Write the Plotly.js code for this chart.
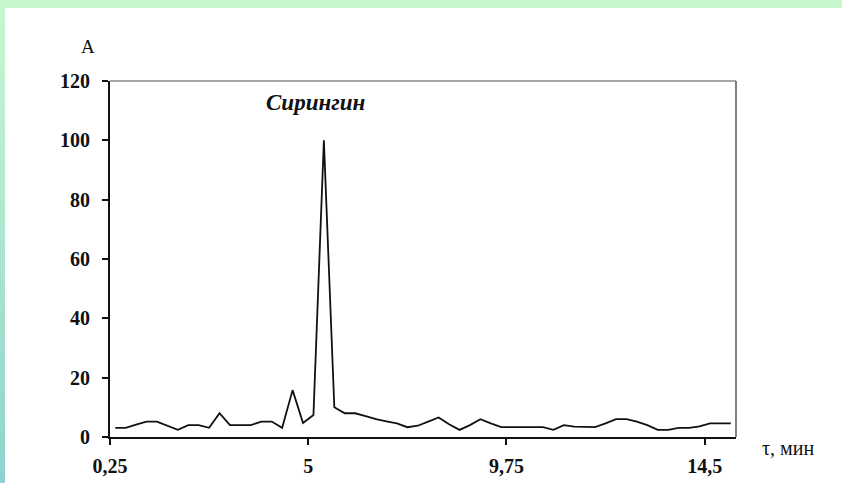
<!DOCTYPE html>
<html>
<head>
<meta charset="utf-8">
<script src="https://cdn.plot.ly/plotly-3.0.1.min.js"></script>
<style>
  html, body { margin: 0; padding: 0; }
  body {
    width: 842px; height: 483px; overflow: hidden;
    background: linear-gradient(to bottom, #c6f7cf 0%, #b0e8cf 45%, #8fd2cf 100%);
    position: relative;
  }
  #top { position: absolute; left: 0; top: 0; width: 842px; height: 8px; background: #c6f7cf; }
  #chart { position: absolute; left: 5px; top: 8px; width: 837px; height: 475px; background: #ffffff; }
</style>
</head>
<body>
<div id="top"></div>
<div id="chart"></div>
<script>
// Retention time, min (sampling step 0.25 min)
const timeMin = [
  0.25, 0.5, 0.75, 1.0, 1.25, 1.5, 1.75, 2.0, 2.25, 2.5,
  2.75, 3.0, 3.25, 3.5, 3.75, 4.0, 4.25, 4.5, 4.75, 5.0,
  5.25, 5.5, 5.75, 6.0, 6.25, 6.5, 6.75, 7.0, 7.25, 7.5,
  7.75, 8.0, 8.25, 8.5, 8.75, 9.0, 9.25, 9.5, 9.75, 10.0,
  10.25, 10.5, 10.75, 11.0, 11.25, 11.5, 11.75, 12.0, 12.25, 12.5,
  12.75, 13.0, 13.25, 13.5, 13.75, 14.0, 14.25, 14.5, 14.75, 15.0
];
// Signal A (relative units)
const signalA = [
  3.1, 3.1, 4.2, 5.2, 5.2, 3.8, 2.4, 4.0, 4.0, 3.1,
  8.0, 4.0, 4.0, 4.0, 5.2, 5.2, 3.1, 15.8, 4.7, 7.4,
  100, 10.0, 8.0, 8.0, 7.0, 6.0, 5.3, 4.6, 3.3, 3.8,
  5.2, 6.6, 4.3, 2.4, 4.0, 6.0, 4.6, 3.3, 3.3, 3.3,
  3.3, 3.3, 2.4, 4.0, 3.5, 3.3, 3.3, 4.6, 6.0, 6.0,
  5.2, 4.0, 2.4, 2.4, 3.1, 3.1, 3.6, 4.6, 4.6, 4.6
];
// Axis ticks (category-boundary positions, as in the original)
const xTickVals = [0.125, 4.875, 9.625, 14.375];
const xTickText = ["0,25", "5", "9,75", "14,5"];
const yTickVals = [0, 20, 40, 60, 80, 100, 120];

const serif = "Liberation Serif, Times New Roman, serif";

const trace = {
  x: timeMin,
  y: signalA,
  type: "scatter",
  mode: "lines",
  line: { color: "#111111", width: 1.8 },
  hoverinfo: "skip"
};

const layout = {
  width: 837,
  height: 475,
  margin: { l: 105, r: 106, t: 73, b: 46 },
  paper_bgcolor: "#ffffff",
  plot_bgcolor: "#ffffff",
  showlegend: false,
  xaxis: {
    range: [0.125, 15.125],
    tickmode: "array",
    tickvals: xTickVals,
    ticktext: xTickText,
    ticks: "outside",
    ticklen: 6,
    tickwidth: 2,
    tickcolor: "#111111",
    showline: true,
    linecolor: "#111111",
    linewidth: 2,
    showgrid: false,
    zeroline: false,
    ticklabelstandoff: 4,
    tickfont: { family: serif, size: 20, color: "#111111", weight: "bold" }
  },
  yaxis: {
    range: [0, 120],
    tickmode: "array",
    tickvals: yTickVals,
    ticks: "outside",
    ticklen: 6,
    tickwidth: 2,
    tickcolor: "#111111",
    showline: true,
    linecolor: "#111111",
    linewidth: 2,
    showgrid: false,
    zeroline: false,
    ticklabelstandoff: 8,
    tickfont: { family: serif, size: 20, color: "#111111", weight: "bold" }
  },
  shapes: [
    { type: "line", xref: "paper", yref: "paper", x0: 0, x1: 1, y0: 1, y1: 1,
      line: { color: "#8a8a8a", width: 1.5 } },
    { type: "line", xref: "paper", yref: "paper", x0: 1, x1: 1, y0: 0, y1: 1,
      line: { color: "#555555", width: 1.5 } }
  ],
  annotations: [
    { text: "Сирингин", xref: "paper", yref: "paper", x: 0.329, y: 0.94,
      xanchor: "center", yanchor: "middle", showarrow: false,
      font: { family: serif, size: 23, color: "#111111", weight: "bold", style: "italic" } },
    { text: "A", xref: "paper", yref: "paper", x: -0.035, y: 1.096,
      xanchor: "center", yanchor: "middle", showarrow: false,
      font: { family: serif, size: 19, color: "#111111" } },
    { text: "τ, мин", xref: "paper", yref: "paper", x: 1.083, y: -0.03,
      xanchor: "center", yanchor: "middle", showarrow: false,
      font: { family: serif, size: 20, color: "#111111" } }
  ]
};

Plotly.newPlot("chart", [trace], layout, { displayModeBar: false, staticPlot: true });
</script>
</body>
</html>
